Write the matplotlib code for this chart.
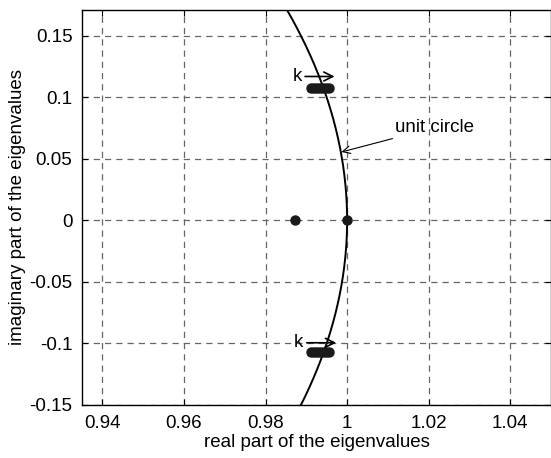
import numpy as np
import matplotlib
matplotlib.use("Agg")
import matplotlib.pyplot as plt

plt.rcParams['font.family'] = ['Liberation Sans', 'DejaVu Sans']

# eigenvalues
upper_re = [0.9912, 0.9919, 0.9926, 0.9933, 0.9940, 0.9947, 0.9955]
upper_im = [0.1073, 0.1073, 0.1073, 0.1073, 0.1073, 0.1073, 0.1073]
lower_re = [0.9912, 0.9919, 0.9926, 0.9933, 0.9940, 0.9947, 0.9955]
lower_im = [-0.1068, -0.1068, -0.1068, -0.1068, -0.1068, -0.1068, -0.1068]
real_re = [0.9873, 1.0]
real_im = [0.0, 0.0]

xticks = [0.94, 0.96, 0.98, 1.0, 1.02, 1.04]
xticklabels = ['0.94', '0.96', '0.98', '1', '1.02', '1.04']
yticks = [-0.15, -0.1, -0.05, 0, 0.05, 0.1, 0.15]
yticklabels = ['-0.15', '-0.1', '-0.05', '0', '0.05', '0.1', '0.15']

fig = plt.figure(figsize=(5.51, 4.58), dpi=100)
ax = fig.add_axes([0.149, 0.116, 0.851, 0.862])

# unit circle
theta = np.linspace(-0.3, 0.3, 400)
ax.plot(np.cos(theta), np.sin(theta), color='black', lw=1.4)

for re, im in [(upper_re, upper_im), (lower_re, lower_im), (real_re, real_im)]:
    ax.plot(re, im, 'o', color='#1a1a1a', markersize=6.5, linestyle='none')

# k arrows
ax.annotate('', xy=(0.9976, 0.117), xytext=(0.9890, 0.117),
            arrowprops=dict(arrowstyle='->', color='black', lw=1.2, mutation_scale=16))
ax.text(0.9877, 0.117, 'k', ha='center', va='center', fontsize=13.5)
ax.annotate('', xy=(0.9980, -0.0995), xytext=(0.9894, -0.0995),
            arrowprops=dict(arrowstyle='->', color='black', lw=1.2, mutation_scale=16))
ax.text(0.9881, -0.0995, 'k', ha='center', va='center', fontsize=13.5)

ax.annotate('unit circle', xy=(0.9986, 0.0556), xytext=(1.0118, 0.0755),
            fontsize=13.5, va='center', ha='left',
            arrowprops=dict(arrowstyle='->', color='black', lw=0.8,
                            shrinkA=0, shrinkB=0))

ax.set_xlim(0.935, 1.05)
ax.set_ylim(-0.15, 0.171)
ax.set_xticks(xticks)
ax.set_xticklabels(xticklabels)
ax.set_yticks(yticks)
ax.set_yticklabels(yticklabels)
ax.tick_params(direction='in', top=True, right=True, labelsize=13.5, length=4)
ax.tick_params(axis='x', pad=7)
ax.tick_params(axis='y', pad=7)
ax.grid(True, color='0.4', linestyle=(0, (5, 4)), lw=0.9)
for s in ax.spines.values():
    s.set_linewidth(1.0)

ax.set_xlabel('real part of the eigenvalues', fontsize=13.5, labelpad=2)
ax.set_ylabel('imaginary part of the eigenvalues', fontsize=13.5, labelpad=2)

fig.savefig('out.png', dpi=100)
